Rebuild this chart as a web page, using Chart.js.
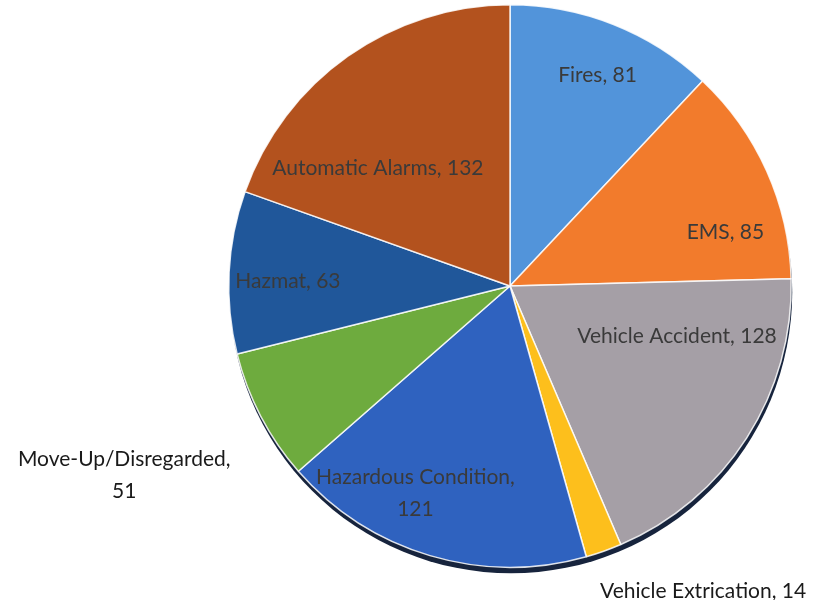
<!DOCTYPE html>
<html>
<head>
<meta charset="utf-8">
<script src="https://cdn.jsdelivr.net/npm/chart.js@4"></script>
<style>
  html, body { margin: 0; padding: 0; background: #fff; }
  #wrap { width: 815px; height: 600px; }
</style>
</head>
<body>
<div id="wrap"><canvas id="callChart" width="815" height="600"></canvas></div>
<script>
// call types, clockwise from 12 o'clock
const categories = ['Fires', 'EMS', 'Vehicle Accident', 'Vehicle Extrication',
    'Hazardous Condition', 'Move-Up/Disregarded', 'Hazmat', 'Automatic Alarms'];
const callCounts = [81, 85, 128, 14, 121, 51, 63, 132];
const sliceColors = ['#5294DA', '#F27B2C', '#A59FA6', '#FDBF1C',
    '#2F62BF', '#6EAB3E', '#20579A', '#B3521E'];

// label placement: [fraction of radius, angle shift in degrees, outside?]
const labelSpots = [
    [0.81, 1, false], [0.79, 10, false], [0.62, -16, false], [1.13, 3, true],
    [0.81, 8, false], [1.2, -6.5, true], [0.79, -1.5, false], [0.63, -13, false]
];

// dark rim under the pie
const pieShadow = {
    id: 'pieShadow',
    beforeDatasetsDraw(chart) {
        const arc = chart.getDatasetMeta(0).data[0];
        const c = chart.ctx;
        c.save();
        c.beginPath();
        c.arc(arc.x + 1, arc.y + 6, arc.outerRadius, 0, Math.PI * 2);
        c.fillStyle = '#17243d';
        c.fill();
        c.restore();
    }
};

const sliceLabels = {
    id: 'sliceLabels',
    afterDatasetsDraw(chart) {
        const c = chart.ctx;
        const meta = chart.getDatasetMeta(0);
        c.save();
        c.font = '21px Lato, "Liberation Sans", sans-serif';
        c.textBaseline = 'middle';
        meta.data.forEach((arc, i) => {
            const [frac, shift, outside] = labelSpots[i];
            const a = (arc.startAngle + arc.endAngle) / 2 + shift * Math.PI / 180;
            const r = arc.outerRadius * frac;
            const x = arc.x + Math.cos(a) * r;
            const y = arc.y + Math.sin(a) * r;
            const text = categories[i] + ', ' + callCounts[i];
            if (!outside) {
                c.fillStyle = '#3a3a3a';
                c.textAlign = 'center';
                if (c.measureText(text).width > arc.outerRadius * 0.75 && categories[i].length > 16) {
                    c.fillText(categories[i] + ',', x, y - 16);
                    c.fillText(String(callCounts[i]), x, y + 16);
                } else {
                    c.fillText(text, x, y);
                }
            } else {
                c.fillStyle = '#1a1a1a';
                const onLeft = Math.cos(a) < 0;
                if (onLeft) {
                    // two centred lines, block ends at the anchor
                    const line1 = categories[i] + ',';
                    const w = c.measureText(line1).width;
                    c.textAlign = 'center';
                    c.fillText(line1, x - w / 2, y - 16);
                    c.fillText(String(callCounts[i]), x - w / 2, y + 16);
                } else {
                    c.textAlign = 'left';
                    c.fillText(text, x, y);
                }
            }
        });
        c.restore();
    }
};

new Chart(document.getElementById('callChart'), {
    type: 'pie',
    data: {
        labels: categories,
        datasets: [{
            data: callCounts,
            backgroundColor: sliceColors,
            borderColor: 'rgba(255,255,255,0.85)',
            borderWidth: 1.5
        }]
    },
    options: {
        responsive: false,
        animation: false,
        layout: { padding: { left: 228, right: 23, top: 4, bottom: 32 } },
        plugins: {
            legend: { display: false },
            tooltip: { enabled: false }
        }
    },
    plugins: [pieShadow, sliceLabels]
});
</script>
</body>
</html>
